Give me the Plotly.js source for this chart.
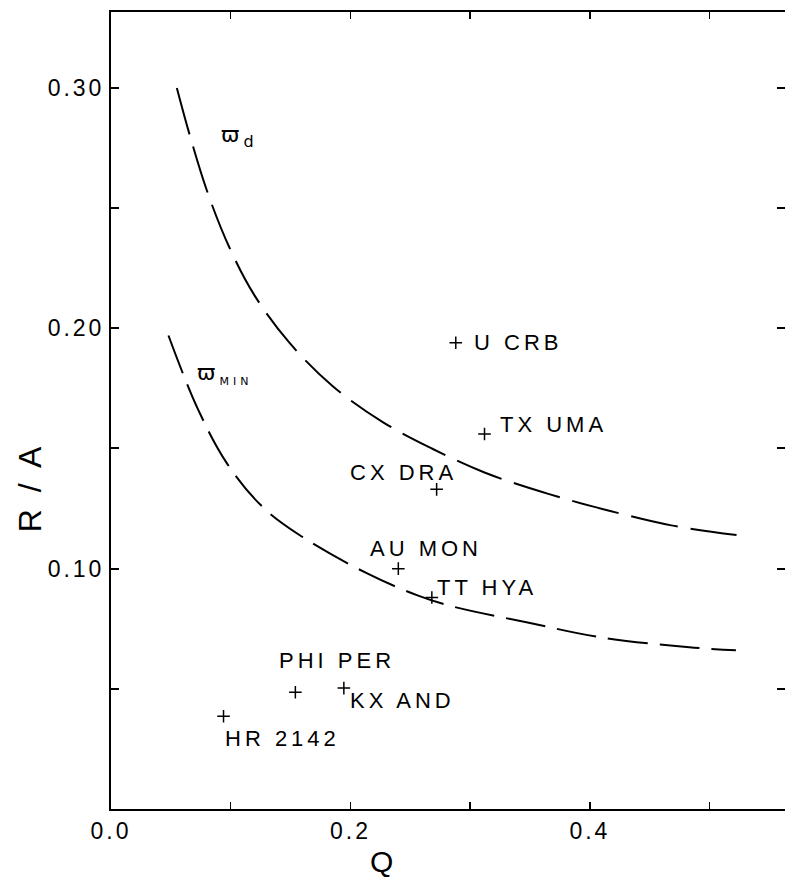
<!DOCTYPE html>
<html>
<head>
<meta charset="utf-8">
<script src="https://cdn.plot.ly/plotly-3.0.1.min.js"></script>
<style>
html,body{margin:0;padding:0;background:#fff;}
#chart .annotation-text { letter-spacing: 4px; }
#chart .xtick text, #chart .ytick text { letter-spacing: 3px; }
</style>
</head>
<body>
<div id="chart" style="width:785px;height:881px;"></div>
<script>
// Stars
var starNames = ['U CRB','TX UMA','CX DRA','AU MON','TT HYA','PHI PER','KX AND','HR 2142'];
var starQ     = [0.288, 0.312, 0.272, 0.240, 0.268, 0.154, 0.1945, 0.094];
var starRA    = [0.194, 0.156, 0.133, 0.100, 0.088, 0.0486, 0.0503, 0.0386];

// Curve omega_d
var curveDQ  = [0.055, 0.066, 0.081, 0.099, 0.120, 0.149, 0.185, 0.227, 0.268, 0.312, 0.366, 0.417, 0.468, 0.5225];
var curveDRA = [0.300, 0.280, 0.256, 0.2335, 0.2136, 0.194, 0.176, 0.161, 0.150, 0.140, 0.131, 0.124, 0.118, 0.114];

// Curve omega_min
var curveMinQ  = [0.048, 0.072, 0.097, 0.127, 0.158, 0.214, 0.256, 0.285, 0.347, 0.408, 0.483, 0.522];
var curveMinRA = [0.197, 0.167, 0.1437, 0.1255, 0.1138, 0.098, 0.0889, 0.0843, 0.0777, 0.0715, 0.0673, 0.066];

// Axis ticks
var xTickVals = [0, 0.2, 0.4];
var xTickText = ['0.0', '0.2', '0.4'];
var yTickVals = [0.10, 0.20, 0.30];
var yTickText = ['0.10', '0.20', '0.30'];

// label placement (style): [xanchor, xshift px, yshift px]
var labelPlace = [
  ['left', 26, 0],
  ['left', 25, 10],
  ['right', 10, 17],
  ['left', -18, 20],
  ['left', 15, 10],
  ['left', -4, 32],
  ['left', 16, -12],
  ['left', 13, -22]
];

var font = 'Liberation Sans, Arial, sans-serif';

var traces = [
  {x: curveDQ, y: curveDRA, mode: 'lines', line: {color: '#000', width: 2, dash: '48px,13px', shape: 'spline'}, hoverinfo: 'skip'},
  {x: curveMinQ, y: curveMinRA, mode: 'lines', line: {color: '#000', width: 2, dash: '40px,12px', shape: 'spline'}, hoverinfo: 'skip'},
  {x: starQ, y: starRA, mode: 'markers', marker: {symbol: 'cross-thin-open', size: 9, color: '#000', line: {color: '#000', width: 1.5}}, text: starNames},
  {x: [0.3], y: [0.1], yaxis: 'y2', mode: 'markers', marker: {opacity: 0}, hoverinfo: 'skip'}
];

var annotations = starNames.map(function (n, i) {
  var p = labelPlace[i];
  return {x: starQ[i], y: starRA[i], xref: 'x', yref: 'y', text: n, showarrow: false,
    xanchor: p[0], yanchor: 'middle', xshift: p[1], yshift: p[2],
    font: {family: font, size: 22, color: '#000'}};
});
annotations.push({x: 0.0935, y: 0.2796, xref: 'x', yref: 'y', text: '\u03D6<sub><span style="font-size:16px">d</span></sub>', showarrow: false,
  xanchor: 'left', yanchor: 'middle', font: {family: 'DejaVu Sans', size: 22, color: '#000'}});
annotations.push({x: 0.0768, y: 0.181, xref: 'x', yref: 'y', text: '\u03D6<sub><span style="font-size:11px">MIN</span></sub>', showarrow: false,
  xanchor: 'left', yanchor: 'middle', font: {family: 'DejaVu Sans', size: 22, color: '#000'}});
annotations.push({x: 0.405, y: -0.066, xref: 'paper', yref: 'paper', text: 'Q', showarrow: false,
  xanchor: 'center', yanchor: 'middle', font: {family: font, size: 30, color: '#000'}});
annotations.push({x: -0.120, y: 0.404, xref: 'paper', yref: 'paper', text: 'R / A', showarrow: false, textangle: -90,
  xanchor: 'center', yanchor: 'middle', font: {family: font, size: 32, color: '#000'}});

var layout = {
  width: 785, height: 881,
  margin: {l: 111, r: 0, t: 12, b: 72},
  paper_bgcolor: '#fff', plot_bgcolor: '#fff',
  showlegend: false,
  font: {family: font, color: '#000'},
  xaxis: {range: [0, 0.563], tickvals: xTickVals, ticktext: xTickText, ticks: 'inside', ticklen: 7, tickwidth: 1.5,
    tickcolor: '#000', showline: true, linecolor: '#000', linewidth: 2, mirror: 'ticks', showgrid: false, zeroline: false,
    minor: {dtick: 0.1, tick0: 0, ticks: 'inside', ticklen: 7, tickwidth: 1.5, tickcolor: '#000', showgrid: false},
    tickfont: {family: font, size: 23, color: '#000'}},
  yaxis: {range: [0, 0.3316], tickvals: yTickVals, ticktext: yTickText, ticks: 'inside', ticklen: 8, tickwidth: 2,
    tickcolor: '#000', showline: true, linecolor: '#000', linewidth: 2, showgrid: false, zeroline: false,
    minor: {dtick: 0.05, tick0: 0, ticks: 'inside', ticklen: 8, tickwidth: 2, tickcolor: '#000', showgrid: false},
    tickfont: {family: font, size: 23, color: '#000'}},
  yaxis2: {overlaying: 'y', side: 'right', matches: 'y', range: [0, 0.3316], tickvals: yTickVals, ticks: 'inside', ticklen: 8, tickwidth: 2,
    tickcolor: '#000', showline: false, showgrid: false, zeroline: false, showticklabels: false,
    minor: {dtick: 0.05, tick0: 0, ticks: 'inside', ticklen: 8, tickwidth: 2, tickcolor: '#000', showgrid: false}},
  annotations: annotations
};

Plotly.newPlot('chart', traces, layout, {displayModeBar: false, staticPlot: true});
</script>
</body>
</html>
